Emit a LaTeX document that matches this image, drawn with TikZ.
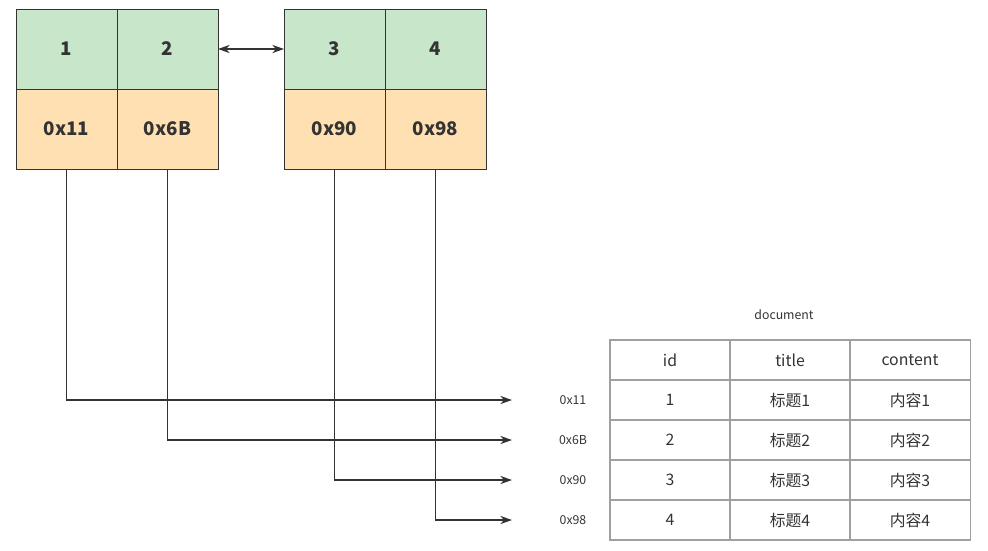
\documentclass[tikz,border=0pt]{standalone}
\usepackage{fontspec}
\setmainfont{Noto Sans CJK SC}
\usetikzlibrary{arrows.meta, positioning}
\definecolor{keygreen}{RGB}{200,230,201}
\definecolor{ptrorange}{RGB}{255,224,178}
\definecolor{linegray}{RGB}{51,51,51}
\definecolor{tablegray}{RGB}{160,160,160}

\begin{document}
\begin{tikzpicture}[x=0.03cm,y=-0.03cm,
		cell/.style = {draw=linegray,line width=0.7pt,minimum width=3.03cm,minimum height=2.4cm,
			inner sep=0pt,outer sep=0pt,font=\fontsize{16}{19}\selectfont\bfseries,text=linegray},
		key/.style = {cell,fill=keygreen},
		ptr/.style = {cell,fill=ptrorange},
		tcell/.style = {draw=tablegray,line width=0.9pt,minimum width=3.6cm,minimum height=1.2cm,
			inner sep=0pt,outer sep=0pt,font=\fontsize{13.5}{16}\selectfont,text=linegray},
		addr/.style = {font=\fontsize{10.5}{13}\selectfont,text=linegray},
		link/.style = {draw=linegray,line width=1.1pt,-{Stealth[length=10pt,width=7pt]}}]
	\useasboundingbox (0,0) rectangle (988,550);

	% leaf nodes
	\node [key] (k1) at (66.5,49) {1};
	\node [key, right=0pt of k1] (k2) {2};
	\node [ptr, below=0pt of k1] (p1) {0x11};
	\node [ptr, below=0pt of k2] (p2) {0x6B};
	\node [key] (k3) at (334.5,49) {3};
	\node [key, right=0pt of k3] (k4) {4};
	\node [ptr, below=0pt of k3] (p3) {0x90};
	\node [ptr, below=0pt of k4] (p4) {0x98};
	\draw [draw=linegray,line width=1.3pt,{Stealth[length=10pt,width=7pt]}-{Stealth[length=10pt,width=7pt]}]
		(k2.east) -- (k3.west);

	% document table
	\node [addr] (doc) at (784,315) {document};
	\node [tcell] (hid) at (670,360) {id};
	\node [tcell, right=0pt of hid] (htitle) {title};
	\node [tcell, right=0pt of htitle] (hcontent) {content};
	\foreach \i/\a [remember=\i as \last (initially h)] in {1/0x11,2/0x6B,3/0x90,4/0x98} {
		\ifnum\i=1 \def\up{hid}\else\edef\up{r\last id}\fi
		\node [tcell, below=0pt of \up] (r\i id) {\i};
		\node [tcell, right=0pt of r\i id] (r\i title) {标题\i};
		\node [tcell, right=0pt of r\i title] (r\i content) {内容\i};
		\node [addr] (a\i) at ([xshift=-1.11cm]r\i id.west) {\a};
		\coordinate (e\i) at ([xshift=-2.94cm]r\i id.west);
	}

	% pointers
	\draw [link] (p1.south) |- (e1);
	\draw [link] (p2.south) |- (e2);
	\draw [link] (p3.south) |- (e3);
	\draw [link] (p4.south) |- (e4);
\end{tikzpicture}
\end{document}
